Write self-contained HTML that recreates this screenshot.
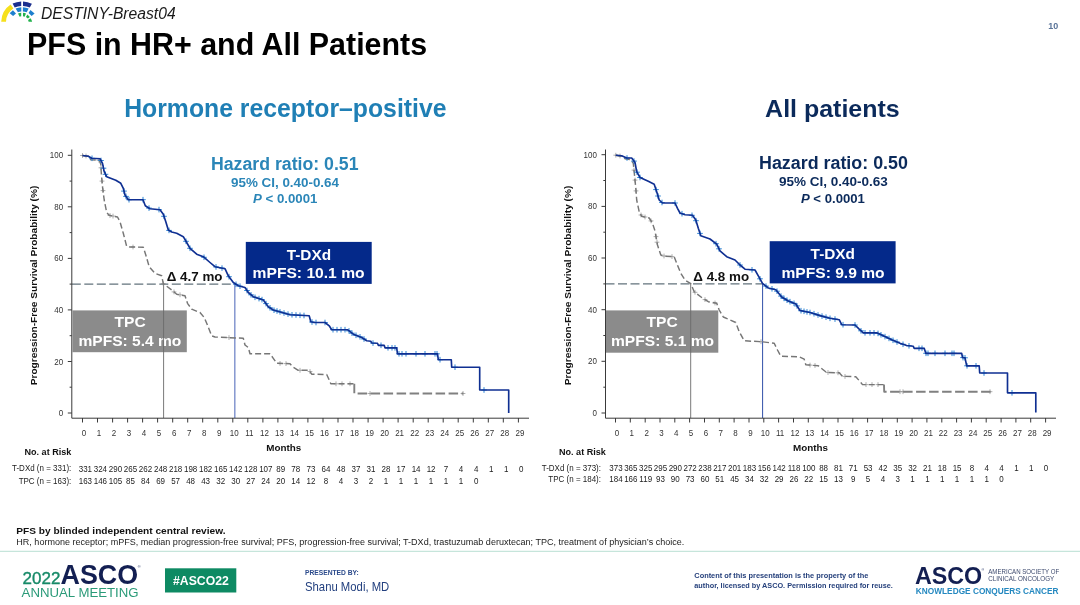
<!DOCTYPE html>
<html lang="en">
<head>
<meta charset="utf-8">
<title>DESTINY-Breast04 - PFS in HR+ and All Patients</title>
<style>
html,body{margin:0;padding:0;background:#fff;}
body{width:1080px;height:605px;overflow:hidden;font-family:"Liberation Sans",sans-serif;}
svg{display:block;}
</style>
</head>
<body>
<svg width="1080" height="605" viewBox="0 0 1080 605" font-family='"Liberation Sans", sans-serif'>
<rect width="1080" height="605" fill="#fff"/>
<g id="logo">
<path d="M1.2,21.8 A 21.5 21.5 0 0 1 10.6,4.6 L13.4,8.6 A 16.5 16.5 0 0 0 6.0,21.8 Z" fill="#f6e01c"/>
<path d="M12.6,3.6 Q16.6,1.7 21.2,1.4 L21.2,6.0 Q17.6,6.3 14.7,7.6 Z" fill="#1c2f8e"/>
<path d="M23.0,1.4 Q27.8,1.7 31.9,3.7 L29.8,7.6 Q26.6,6.2 23.0,6.0 Z" fill="#1c2f8e"/>
<path d="M12.9,10.2 L16.0,13.6 L13.1,16.0 L9.7,13.3 Z" fill="#1d7fce"/>
<path d="M15.6,8.6 Q18.2,7.4 21.3,7.2 L21.3,11.4 Q19.4,11.6 17.9,12.3 Z" fill="#1d7fce"/>
<path d="M22.9,7.2 Q26.0,7.4 28.7,8.6 L26.7,12.3 Q24.9,11.6 22.9,11.4 Z" fill="#1d7fce"/>
<path d="M30.4,10.0 L34.6,13.6 L31.6,16.0 L28.6,13.0 Z" fill="#1d7fce"/>
<path d="M18.0,13.4 Q19.5,12.8 21.2,12.7 L21.2,16.3 Q20.2,16.5 19.6,16.8 Z" fill="#22b14c"/>
<path d="M23.0,12.7 Q24.7,12.8 26.0,13.5 L24.6,16.7 Q23.8,16.4 23.0,16.3 Z" fill="#22b14c"/>
<path d="M27.4,14.6 L29.9,16.9 L27.8,18.6 L25.9,17.0 Z" fill="#22b14c"/>
<path d="M30.6,18.2 Q31.8,19.8 32.1,21.8 L28.6,21.8 Q28.5,20.8 28.0,20.0 Z" fill="#22b14c"/>
</g>
<text x="41.0" y="19.1" font-size="16.0" fill="#1a1a1a" font-style="italic" textLength="134.6" lengthAdjust="spacingAndGlyphs">DESTINY-Breast04</text>
<text x="27.1" y="55.0" font-size="31.8" fill="#000" font-weight="bold" textLength="400.0" lengthAdjust="spacingAndGlyphs">PFS in HR+ and All Patients</text>
<text x="1048.3" y="29.3" font-size="9.5" fill="#5a7499" font-weight="bold" textLength="10.0" lengthAdjust="spacingAndGlyphs">10</text>
<text x="124.2" y="117.0" font-size="26.0" fill="#1f7fb5" font-weight="bold" textLength="322.3" lengthAdjust="spacingAndGlyphs">Hormone receptor–positive</text>
<text x="765.1" y="116.8" font-size="24.3" fill="#0b2a5b" font-weight="bold" textLength="134.6" lengthAdjust="spacingAndGlyphs">All patients</text>
<path d="M71.8,284.1H234.8" stroke="#63737c" stroke-width="1.3" stroke-dasharray="9 3.5" fill="none"/>
<path d="M163.6,284.1V418" stroke="#6a6a6a" stroke-width="0.9" fill="none"/>
<path d="M234.8,284.1V418" stroke="#7d90cc" stroke-width="1.4" fill="none"/>
<path d="M71.8,149.5V418.2H529M71.8,413.0h-4M71.8,387.2h-2.2M71.8,361.5h-4M71.8,335.7h-2.2M71.8,309.9h-4M71.8,284.1h-2.2M71.8,258.4h-4M71.8,232.6h-2.2M71.8,206.8h-4M71.8,181.1h-2.2M71.8,155.3h-4M82.5,418v4.5M97.5,418v4.5M112.6,418v4.5M127.6,418v4.5M142.6,418v4.5M157.6,418v4.5M172.7,418v4.5M187.7,418v4.5M202.7,418v4.5M217.8,418v4.5M232.8,418v4.5M247.8,418v4.5M262.9,418v4.5M277.9,418v4.5M292.9,418v4.5M307.9,418v4.5M323.0,418v4.5M338.0,418v4.5M353.0,418v4.5M368.1,418v4.5M383.1,418v4.5M398.1,418v4.5M413.2,418v4.5M428.2,418v4.5M443.2,418v4.5M458.2,418v4.5M473.3,418v4.5M488.3,418v4.5M503.3,418v4.5M518.4,418v4.5" fill="none" stroke="#3a3a3a" stroke-width="1"/>
<g font-size="8" fill="#333">
<text transform="translate(63.2,416.0) scale(0.93,1)" font-size="8.6" fill="#333" text-anchor="end">0</text>
<text transform="translate(63.2,364.5) scale(0.93,1)" font-size="8.6" fill="#333" text-anchor="end">20</text>
<text transform="translate(63.2,312.9) scale(0.93,1)" font-size="8.6" fill="#333" text-anchor="end">40</text>
<text transform="translate(63.2,261.4) scale(0.93,1)" font-size="8.6" fill="#333" text-anchor="end">60</text>
<text transform="translate(63.2,209.8) scale(0.93,1)" font-size="8.6" fill="#333" text-anchor="end">80</text>
<text transform="translate(63.2,158.3) scale(0.93,1)" font-size="8.6" fill="#333" text-anchor="end">100</text>
<text transform="translate(84.0,435.6) scale(0.93,1)" font-size="8.6" fill="#333" text-anchor="middle">0</text>
<text transform="translate(99.0,435.6) scale(0.93,1)" font-size="8.6" fill="#333" text-anchor="middle">1</text>
<text transform="translate(114.1,435.6) scale(0.93,1)" font-size="8.6" fill="#333" text-anchor="middle">2</text>
<text transform="translate(129.1,435.6) scale(0.93,1)" font-size="8.6" fill="#333" text-anchor="middle">3</text>
<text transform="translate(144.1,435.6) scale(0.93,1)" font-size="8.6" fill="#333" text-anchor="middle">4</text>
<text transform="translate(159.1,435.6) scale(0.93,1)" font-size="8.6" fill="#333" text-anchor="middle">5</text>
<text transform="translate(174.2,435.6) scale(0.93,1)" font-size="8.6" fill="#333" text-anchor="middle">6</text>
<text transform="translate(189.2,435.6) scale(0.93,1)" font-size="8.6" fill="#333" text-anchor="middle">7</text>
<text transform="translate(204.2,435.6) scale(0.93,1)" font-size="8.6" fill="#333" text-anchor="middle">8</text>
<text transform="translate(219.3,435.6) scale(0.93,1)" font-size="8.6" fill="#333" text-anchor="middle">9</text>
<text transform="translate(234.3,435.6) scale(0.93,1)" font-size="8.6" fill="#333" text-anchor="middle">10</text>
<text transform="translate(249.3,435.6) scale(0.93,1)" font-size="8.6" fill="#333" text-anchor="middle">11</text>
<text transform="translate(264.4,435.6) scale(0.93,1)" font-size="8.6" fill="#333" text-anchor="middle">12</text>
<text transform="translate(279.4,435.6) scale(0.93,1)" font-size="8.6" fill="#333" text-anchor="middle">13</text>
<text transform="translate(294.4,435.6) scale(0.93,1)" font-size="8.6" fill="#333" text-anchor="middle">14</text>
<text transform="translate(309.4,435.6) scale(0.93,1)" font-size="8.6" fill="#333" text-anchor="middle">15</text>
<text transform="translate(324.5,435.6) scale(0.93,1)" font-size="8.6" fill="#333" text-anchor="middle">16</text>
<text transform="translate(339.5,435.6) scale(0.93,1)" font-size="8.6" fill="#333" text-anchor="middle">17</text>
<text transform="translate(354.5,435.6) scale(0.93,1)" font-size="8.6" fill="#333" text-anchor="middle">18</text>
<text transform="translate(369.6,435.6) scale(0.93,1)" font-size="8.6" fill="#333" text-anchor="middle">19</text>
<text transform="translate(384.6,435.6) scale(0.93,1)" font-size="8.6" fill="#333" text-anchor="middle">20</text>
<text transform="translate(399.6,435.6) scale(0.93,1)" font-size="8.6" fill="#333" text-anchor="middle">21</text>
<text transform="translate(414.7,435.6) scale(0.93,1)" font-size="8.6" fill="#333" text-anchor="middle">22</text>
<text transform="translate(429.7,435.6) scale(0.93,1)" font-size="8.6" fill="#333" text-anchor="middle">23</text>
<text transform="translate(444.7,435.6) scale(0.93,1)" font-size="8.6" fill="#333" text-anchor="middle">24</text>
<text transform="translate(459.8,435.6) scale(0.93,1)" font-size="8.6" fill="#333" text-anchor="middle">25</text>
<text transform="translate(474.8,435.6) scale(0.93,1)" font-size="8.6" fill="#333" text-anchor="middle">26</text>
<text transform="translate(489.8,435.6) scale(0.93,1)" font-size="8.6" fill="#333" text-anchor="middle">27</text>
<text transform="translate(504.8,435.6) scale(0.93,1)" font-size="8.6" fill="#333" text-anchor="middle">28</text>
<text transform="translate(519.9,435.6) scale(0.93,1)" font-size="8.6" fill="#333" text-anchor="middle">29</text>
</g>
<path d="M82.5,153.1v4.8M80.1,155.5h4.8M86.0,153.6v4.8M83.6,156.0h4.8M99.0,157.9v4.8M96.6,160.3h4.8M101.0,165.4v4.8M98.6,167.8h4.8M102.0,178.7v4.8M99.6,181.1h4.8M103.0,188.2v4.8M100.6,190.6h4.8M110.0,213.1v4.8M107.6,215.5h4.8M113.0,213.7v4.8M110.6,216.1h4.8M133.0,244.6v4.8M130.6,247.0h4.8M163.3,281.3v4.8M160.9,283.7h4.8M174.0,289.5v4.8M171.6,291.9h4.8M180.0,292.4v4.8M177.6,294.8h4.8M229.0,335.2v4.8M226.6,337.6h4.8M280.0,361.0v4.8M277.6,363.4h4.8M286.0,361.2v4.8M283.6,363.6h4.8M300.0,367.9v4.8M297.6,370.3h4.8M310.0,369.1v4.8M307.6,371.5h4.8M336.0,381.4v4.8M333.6,383.8h4.8M342.0,381.4v4.8M339.6,383.8h4.8M350.0,381.4v4.8M347.6,383.8h4.8M370.0,391.1v4.8M367.6,393.5h4.8M463.0,391.1v4.8M460.6,393.5h4.8" fill="none" stroke="#8a8a8a" stroke-width="0.7"/>
<path d="M82.5,155.5 L88.3,156.3 L90.8,159.7 L99.2,160.3 L100.8,164.2 L101.3,173.3 L102.5,186.7 L104.2,200.0 L106.7,212.5 L109.2,215.3 L117.5,217.0 L120.0,221.7 L123.3,233.3 L126.7,246.5 L130.0,247.0 L143.3,247.2 L145.8,255.0 L149.2,266.7 L155.0,273.3 L161.7,275.8 L163.3,283.7 L171.7,290.0 L176.7,294.2 L185.0,295.8 L187.5,303.3 L191.7,309.2 L200.0,312.5 L204.2,317.5 L206.7,323.3 L211.7,335.8 L215.0,337.0 L243.3,338.3 L245.0,345.0 L248.3,347.5 L250.0,353.7 L270.0,353.7 L273.3,358.3 L276.7,363.3 L290.0,363.7 L292.5,366.7 L298.3,370.3 L309.2,370.3 L311.7,374.2 L326.7,374.5 L329.2,380.0 L330.8,383.8 L354.3,383.8" fill="none" stroke="#767676" stroke-width="1.45" stroke-linejoin="round" stroke-dasharray="6 3"/>
<path d="M354.3,383.8 L354.3,393.5 L463.3,393.5" fill="none" stroke="#808080" stroke-width="1.9" stroke-linejoin="round" stroke-dasharray="9.5 3.5"/>
<path d="M92.0,155.5v5.6M89.2,158.3h5.6M101.0,157.7v5.6M98.2,160.5h5.6M103.5,165.4v5.6M100.7,168.2h5.6M105.5,171.5v5.6M102.7,174.3h5.6M124.0,188.3v5.6M121.2,191.1h5.6M126.0,193.6v5.6M123.2,196.4h5.6M129.0,196.9v5.6M126.2,199.7h5.6M143.0,196.9v5.6M140.2,199.7h5.6M149.0,205.3v5.6M146.2,208.1h5.6M159.0,206.8v5.6M156.2,209.6h5.6M164.0,213.5v5.6M161.2,216.3h5.6M169.0,227.6v5.6M166.2,230.4h5.6M186.0,238.5v5.6M183.2,241.3h5.6M190.0,245.5v5.6M187.2,248.3h5.6M204.0,254.5v5.6M201.2,257.3h5.6M216.0,264.1v5.6M213.2,266.9h5.6M222.0,265.3v5.6M219.2,268.1h5.6M229.0,273.9v5.6M226.2,276.7h5.6M236.0,281.5v5.6M233.2,284.3h5.6M240.0,283.4v5.6M237.2,286.2h5.6M247.0,287.7v5.6M244.2,290.5h5.6M251.0,292.0v5.6M248.2,294.8h5.6M255.0,294.5v5.6M252.2,297.3h5.6M259.0,295.8v5.6M256.2,298.6h5.6M262.0,296.8v5.6M259.2,299.6h5.6M266.0,300.8v5.6M263.2,303.6h5.6M270.0,305.0v5.6M267.2,307.8h5.6M274.0,307.4v5.6M271.2,310.2h5.6M277.0,308.2v5.6M274.2,311.0h5.6M280.0,309.1v5.6M277.2,311.9h5.6M284.0,310.2v5.6M281.2,313.0h5.6M288.0,311.3v5.6M285.2,314.1h5.6M292.0,312.0v5.6M289.2,314.8h5.6M296.0,312.2v5.6M293.2,315.0h5.6M300.0,312.5v5.6M297.2,315.3h5.6M304.0,312.7v5.6M301.2,315.5h5.6M312.0,319.2v5.6M309.2,322.0h5.6M316.0,319.7v5.6M313.2,322.5h5.6M325.0,319.7v5.6M322.2,322.5h5.6M333.0,326.9v5.6M330.2,329.7h5.6M337.0,326.9v5.6M334.2,329.7h5.6M341.0,326.9v5.6M338.2,329.7h5.6M345.0,326.9v5.6M342.2,329.7h5.6M349.0,328.1v5.6M346.2,330.9h5.6M352.0,330.4v5.6M349.2,333.2h5.6M356.0,332.5v5.6M353.2,335.3h5.6M360.0,334.0v5.6M357.2,336.8h5.6M364.0,336.2v5.6M361.2,339.0h5.6M373.0,340.3v5.6M370.2,343.1h5.6M381.0,342.5v5.6M378.2,345.3h5.6M388.0,345.0v5.6M385.2,347.8h5.6M392.0,345.0v5.6M389.2,347.8h5.6M395.0,345.0v5.6M392.2,347.8h5.6M399.0,351.0v5.6M396.2,353.8h5.6M402.0,351.0v5.6M399.2,353.8h5.6M406.0,351.0v5.6M403.2,353.8h5.6M416.0,351.0v5.6M413.2,353.8h5.6M425.0,351.0v5.6M422.2,353.8h5.6M435.0,351.0v5.6M432.2,353.8h5.6M437.0,351.0v5.6M434.2,353.8h5.6M440.0,356.9v5.6M437.2,359.7h5.6M455.0,364.4v5.6M452.2,367.2h5.6M484.0,387.2v5.6M481.2,390.0h5.6" fill="none" stroke="#2380d2" stroke-width="0.95"/>
<path d="M82.5,155.5 L88.3,156.3 L91.7,158.3 L100.0,158.7 L102.5,163.3 L104.2,171.7 L106.7,176.7 L115.8,180.3 L120.8,183.3 L123.3,188.3 L125.0,195.0 L128.3,199.7 L143.0,199.7 L145.3,205.8 L150.0,208.7 L160.0,209.7 L163.3,214.2 L165.8,221.7 L168.3,230.0 L171.7,232.0 L176.7,233.3 L183.3,236.7 L186.7,242.5 L190.0,248.3 L196.7,254.2 L203.3,256.7 L210.0,262.5 L215.0,266.7 L225.0,268.7 L228.3,275.8 L233.3,282.5 L238.3,285.8 L245.0,287.5 L248.3,292.5 L253.3,296.7 L263.3,300.0 L268.3,306.7 L273.3,310.0 L290.0,314.7 L309.2,315.8 L310.8,321.7 L314.2,322.5 L325.0,322.5 L329.2,325.8 L331.7,329.7 L347.5,329.7 L353.3,334.2 L361.7,337.5 L366.7,340.8 L370.8,341.2 L371.7,343.0 L377.5,343.3 L378.3,345.3 L384.2,345.3 L385.0,347.8 L396.7,347.8 L397.5,353.8 L437.5,353.8 L438.3,359.7 L451.3,359.7 L451.7,367.2 L479.7,367.2 L479.7,390.0 L508.7,390.0 L508.7,413.0" fill="none" stroke="#0f2f92" stroke-width="1.65" stroke-linejoin="round"/>
<path d="M605.5,283.9H762.6" stroke="#63737c" stroke-width="1.3" stroke-dasharray="9 3.5" fill="none"/>
<path d="M690.7,283.9V418" stroke="#6a6a6a" stroke-width="0.9" fill="none"/>
<path d="M762.6,283.9V418" stroke="#3150a8" stroke-width="1.0" fill="none"/>
<path d="M605.5,149.5V418.2H1056M605.5,413.0h-4M605.5,387.2h-2.2M605.5,361.3h-4M605.5,335.5h-2.2M605.5,309.7h-4M605.5,283.9h-2.2M605.5,258.0h-4M605.5,232.2h-2.2M605.5,206.4h-4M605.5,180.5h-2.2M605.5,154.7h-4M615.5,418v4.5M630.3,418v4.5M645.2,418v4.5M660.0,418v4.5M674.8,418v4.5M689.6,418v4.5M704.5,418v4.5M719.3,418v4.5M734.1,418v4.5M749.0,418v4.5M763.8,418v4.5M778.6,418v4.5M793.5,418v4.5M808.3,418v4.5M823.1,418v4.5M838.0,418v4.5M852.8,418v4.5M867.6,418v4.5M882.4,418v4.5M897.3,418v4.5M912.1,418v4.5M926.9,418v4.5M941.8,418v4.5M956.6,418v4.5M971.4,418v4.5M986.2,418v4.5M1001.1,418v4.5M1015.9,418v4.5M1030.7,418v4.5M1045.6,418v4.5" fill="none" stroke="#3a3a3a" stroke-width="1"/>
<g font-size="8" fill="#333">
<text transform="translate(596.9,416.0) scale(0.93,1)" font-size="8.6" fill="#333" text-anchor="end">0</text>
<text transform="translate(596.9,364.3) scale(0.93,1)" font-size="8.6" fill="#333" text-anchor="end">20</text>
<text transform="translate(596.9,312.7) scale(0.93,1)" font-size="8.6" fill="#333" text-anchor="end">40</text>
<text transform="translate(596.9,261.0) scale(0.93,1)" font-size="8.6" fill="#333" text-anchor="end">60</text>
<text transform="translate(596.9,209.4) scale(0.93,1)" font-size="8.6" fill="#333" text-anchor="end">80</text>
<text transform="translate(596.9,157.7) scale(0.93,1)" font-size="8.6" fill="#333" text-anchor="end">100</text>
<text transform="translate(617.0,435.6) scale(0.93,1)" font-size="8.6" fill="#333" text-anchor="middle">0</text>
<text transform="translate(631.8,435.6) scale(0.93,1)" font-size="8.6" fill="#333" text-anchor="middle">1</text>
<text transform="translate(646.7,435.6) scale(0.93,1)" font-size="8.6" fill="#333" text-anchor="middle">2</text>
<text transform="translate(661.5,435.6) scale(0.93,1)" font-size="8.6" fill="#333" text-anchor="middle">3</text>
<text transform="translate(676.3,435.6) scale(0.93,1)" font-size="8.6" fill="#333" text-anchor="middle">4</text>
<text transform="translate(691.1,435.6) scale(0.93,1)" font-size="8.6" fill="#333" text-anchor="middle">5</text>
<text transform="translate(706.0,435.6) scale(0.93,1)" font-size="8.6" fill="#333" text-anchor="middle">6</text>
<text transform="translate(720.8,435.6) scale(0.93,1)" font-size="8.6" fill="#333" text-anchor="middle">7</text>
<text transform="translate(735.6,435.6) scale(0.93,1)" font-size="8.6" fill="#333" text-anchor="middle">8</text>
<text transform="translate(750.5,435.6) scale(0.93,1)" font-size="8.6" fill="#333" text-anchor="middle">9</text>
<text transform="translate(765.3,435.6) scale(0.93,1)" font-size="8.6" fill="#333" text-anchor="middle">10</text>
<text transform="translate(780.1,435.6) scale(0.93,1)" font-size="8.6" fill="#333" text-anchor="middle">11</text>
<text transform="translate(795.0,435.6) scale(0.93,1)" font-size="8.6" fill="#333" text-anchor="middle">12</text>
<text transform="translate(809.8,435.6) scale(0.93,1)" font-size="8.6" fill="#333" text-anchor="middle">13</text>
<text transform="translate(824.6,435.6) scale(0.93,1)" font-size="8.6" fill="#333" text-anchor="middle">14</text>
<text transform="translate(839.5,435.6) scale(0.93,1)" font-size="8.6" fill="#333" text-anchor="middle">15</text>
<text transform="translate(854.3,435.6) scale(0.93,1)" font-size="8.6" fill="#333" text-anchor="middle">16</text>
<text transform="translate(869.1,435.6) scale(0.93,1)" font-size="8.6" fill="#333" text-anchor="middle">17</text>
<text transform="translate(883.9,435.6) scale(0.93,1)" font-size="8.6" fill="#333" text-anchor="middle">18</text>
<text transform="translate(898.8,435.6) scale(0.93,1)" font-size="8.6" fill="#333" text-anchor="middle">19</text>
<text transform="translate(913.6,435.6) scale(0.93,1)" font-size="8.6" fill="#333" text-anchor="middle">20</text>
<text transform="translate(928.4,435.6) scale(0.93,1)" font-size="8.6" fill="#333" text-anchor="middle">21</text>
<text transform="translate(943.3,435.6) scale(0.93,1)" font-size="8.6" fill="#333" text-anchor="middle">22</text>
<text transform="translate(958.1,435.6) scale(0.93,1)" font-size="8.6" fill="#333" text-anchor="middle">23</text>
<text transform="translate(972.9,435.6) scale(0.93,1)" font-size="8.6" fill="#333" text-anchor="middle">24</text>
<text transform="translate(987.8,435.6) scale(0.93,1)" font-size="8.6" fill="#333" text-anchor="middle">25</text>
<text transform="translate(1002.6,435.6) scale(0.93,1)" font-size="8.6" fill="#333" text-anchor="middle">26</text>
<text transform="translate(1017.4,435.6) scale(0.93,1)" font-size="8.6" fill="#333" text-anchor="middle">27</text>
<text transform="translate(1032.2,435.6) scale(0.93,1)" font-size="8.6" fill="#333" text-anchor="middle">28</text>
<text transform="translate(1047.1,435.6) scale(0.93,1)" font-size="8.6" fill="#333" text-anchor="middle">29</text>
</g>
<path d="M615.8,152.8v4.8M613.4,155.2h4.8M620.0,153.6v4.8M617.6,156.0h4.8M634.0,167.7v4.8M631.6,170.1h4.8M635.0,177.7v4.8M632.6,180.1h4.8M636.0,188.5v4.8M633.6,190.9h4.8M641.0,212.6v4.8M638.6,215.0h4.8M645.0,214.6v4.8M642.6,217.0h4.8M651.0,218.5v4.8M648.6,220.9h4.8M656.0,234.2v4.8M653.6,236.6h4.8M657.0,239.8v4.8M654.6,242.2h4.8M664.0,253.6v4.8M661.6,256.0h4.8M672.0,254.2v4.8M669.6,256.6h4.8M695.0,289.9v4.8M692.6,292.3h4.8M705.0,297.2v4.8M702.6,299.6h4.8M715.0,300.6v4.8M712.6,303.0h4.8M761.0,339.3v4.8M758.6,341.7h4.8M810.0,362.7v4.8M807.6,365.1h4.8M815.0,363.1v4.8M812.6,365.5h4.8M828.0,370.1v4.8M825.6,372.5h4.8M838.0,370.4v4.8M835.6,372.8h4.8M845.0,374.0v4.8M842.6,376.4h4.8M866.0,382.2v4.8M863.6,384.6h4.8M872.0,382.2v4.8M869.6,384.6h4.8M878.0,382.2v4.8M875.6,384.6h4.8M900.0,389.3v4.8M897.6,391.7h4.8M903.0,389.3v4.8M900.6,391.7h4.8M990.0,389.3v4.8M987.6,391.7h4.8" fill="none" stroke="#8a8a8a" stroke-width="0.7"/>
<path d="M615.8,155.2 L621.7,156.3 L625.0,158.7 L630.8,159.7 L633.3,163.3 L634.5,175.0 L635.8,188.3 L636.7,200.0 L639.2,211.7 L641.7,216.3 L649.2,218.0 L652.5,223.3 L655.0,231.0 L657.5,245.0 L660.8,255.0 L665.0,256.3 L674.2,256.7 L676.7,263.3 L680.8,273.3 L685.0,280.0 L690.8,283.7 L694.2,291.7 L701.7,297.5 L708.3,301.7 L716.7,303.3 L719.2,310.0 L723.3,317.0 L735.8,322.5 L739.2,331.7 L744.2,340.8 L761.7,341.7 L774.2,343.3 L777.5,350.0 L780.8,356.3 L799.2,356.7 L804.2,359.2 L805.8,364.7 L818.3,365.8 L822.5,369.2 L826.7,372.5 L839.2,372.8 L842.5,376.3 L855.8,376.7 L860.8,382.5 L862.5,384.6 L884.0,384.6" fill="none" stroke="#767676" stroke-width="1.45" stroke-linejoin="round" stroke-dasharray="6 3"/>
<path d="M884.0,384.6 L884.2,391.7 L990.8,391.7" fill="none" stroke="#808080" stroke-width="1.9" stroke-linejoin="round" stroke-dasharray="9.5 3.5"/>
<path d="M627.0,155.2v5.6M624.2,158.0h5.6M634.0,158.3v5.6M631.2,161.1h5.6M637.0,169.4v5.6M634.2,172.2h5.6M640.0,174.7v5.6M637.2,177.5h5.6M656.0,186.8v5.6M653.2,189.6h5.6M658.0,193.2v5.6M655.2,196.0h5.6M662.0,199.7v5.6M659.2,202.5h5.6M675.0,200.2v5.6M672.2,203.0h5.6M682.0,210.9v5.6M679.2,213.7h5.6M692.0,212.5v5.6M689.2,215.3h5.6M696.0,217.9v5.6M693.2,220.7h5.6M700.0,230.6v5.6M697.2,233.4h5.6M716.0,240.9v5.6M713.2,243.7h5.6M719.0,246.0v5.6M716.2,248.8h5.6M740.0,262.2v5.6M737.2,265.0h5.6M752.0,267.0v5.6M749.2,269.8h5.6M760.0,276.0v5.6M757.2,278.8h5.6M766.0,283.3v5.6M763.2,286.1h5.6M772.0,286.0v5.6M769.2,288.8h5.6M777.0,288.4v5.6M774.2,291.2h5.6M781.0,293.3v5.6M778.2,296.1h5.6M784.0,295.6v5.6M781.2,298.4h5.6M787.0,297.4v5.6M784.2,300.2h5.6M790.0,298.9v5.6M787.2,301.7h5.6M794.0,300.5v5.6M791.2,303.3h5.6M797.0,303.1v5.6M794.2,305.9h5.6M801.0,307.9v5.6M798.2,310.7h5.6M804.0,308.5v5.6M801.2,311.3h5.6M807.0,309.1v5.6M804.2,311.9h5.6M810.0,309.7v5.6M807.2,312.5h5.6M814.0,310.9v5.6M811.2,313.7h5.6M818.0,312.2v5.6M815.2,315.0h5.6M822.0,313.3v5.6M819.2,316.1h5.6M826.0,314.4v5.6M823.2,317.2h5.6M830.0,315.5v5.6M827.2,318.3h5.6M835.0,316.3v5.6M832.2,319.1h5.6M843.0,321.9v5.6M840.2,324.7h5.6M855.0,322.2v5.6M852.2,325.0h5.6M861.0,328.0v5.6M858.2,330.8h5.6M865.0,330.0v5.6M862.2,332.8h5.6M870.0,330.0v5.6M867.2,332.8h5.6M874.0,330.0v5.6M871.2,332.8h5.6M878.0,330.6v5.6M875.2,333.4h5.6M881.0,332.0v5.6M878.2,334.8h5.6M885.0,333.8v5.6M882.2,336.6h5.6M889.0,335.6v5.6M886.2,338.4h5.6M893.0,337.5v5.6M890.2,340.3h5.6M897.0,339.2v5.6M894.2,342.0h5.6M903.0,341.5v5.6M900.2,344.3h5.6M909.0,343.0v5.6M906.2,345.8h5.6M919.0,345.5v5.6M916.2,348.3h5.6M922.0,345.5v5.6M919.2,348.3h5.6M926.0,350.5v5.6M923.2,353.3h5.6M928.0,350.5v5.6M925.2,353.3h5.6M935.0,350.5v5.6M932.2,353.3h5.6M945.0,350.5v5.6M942.2,353.3h5.6M952.0,350.5v5.6M949.2,353.3h5.6M954.0,350.5v5.6M951.2,353.3h5.6M963.0,354.8v5.6M960.2,357.6h5.6M965.0,355.0v5.6M962.2,357.8h5.6M967.0,363.0v5.6M964.2,365.8h5.6M976.0,363.0v5.6M973.2,365.8h5.6M984.0,370.2v5.6M981.2,373.0h5.6M1012.0,390.0v5.6M1009.2,392.8h5.6" fill="none" stroke="#2380d2" stroke-width="0.95"/>
<path d="M615.8,155.2 L621.7,155.8 L626.7,158.0 L631.7,158.0 L635.0,162.5 L636.7,171.7 L640.0,177.5 L648.3,181.3 L654.2,184.2 L656.7,191.7 L659.2,200.0 L662.5,203.0 L675.0,203.0 L677.5,208.3 L680.0,213.0 L685.0,214.7 L692.5,215.3 L695.8,220.0 L698.3,228.3 L700.8,235.8 L710.0,239.0 L716.7,244.2 L720.0,250.8 L726.7,256.7 L735.0,260.0 L740.0,265.0 L745.0,269.2 L755.0,270.0 L758.3,275.8 L762.5,283.3 L768.3,288.0 L775.8,289.7 L781.7,297.0 L788.3,301.0 L795.8,304.0 L800.0,310.5 L810.0,312.5 L820.0,315.6 L830.0,318.3 L839.2,319.7 L841.7,324.7 L855.0,325.0 L859.2,329.2 L863.3,332.8 L876.7,332.8 L883.3,335.8 L891.7,339.7 L900.0,343.3 L906.7,345.5 L913.3,346.3 L914.2,348.3 L924.2,348.3 L925.8,353.3 L961.7,353.3 L962.5,357.5 L965.0,357.8 L965.8,361.7 L966.7,365.8 L979.2,365.8 L979.7,373.0 L1007.5,373.0 L1007.5,392.8 L1035.8,392.8 L1035.8,412.5" fill="none" stroke="#0f2f92" stroke-width="1.65" stroke-linejoin="round"/>
<text x="211.0" y="169.5" font-size="17.6" fill="#2b86b8" font-weight="bold" textLength="147.5" lengthAdjust="spacingAndGlyphs">Hazard ratio: 0.51</text>
<text x="231.0" y="186.6" font-size="12.2" fill="#2b86b8" font-weight="bold" textLength="108.0" lengthAdjust="spacingAndGlyphs">95% CI, 0.40-0.64</text>
<text x="253" y="202.9" font-size="12.2" fill="#2b86b8" font-weight="bold" textLength="64.4" lengthAdjust="spacingAndGlyphs"><tspan font-style="italic">P</tspan> &lt; 0.0001</text>
<rect x="245.8" y="241.9" width="125.9" height="42" fill="#04298a"/>
<text x="286.7" y="259.6" font-size="15.2" fill="#fff" font-weight="bold" textLength="44.4" lengthAdjust="spacingAndGlyphs">T-DXd</text>
<text x="252.6" y="278.0" font-size="15.2" fill="#fff" font-weight="bold" textLength="112.0" lengthAdjust="spacingAndGlyphs">mPFS: 10.1 mo</text>
<rect x="72.4" y="310.4" width="114.4" height="41.8" fill="#8b8b8b"/>
<text x="114.6" y="327.3" font-size="15.2" fill="#fff" font-weight="bold" textLength="31.2" lengthAdjust="spacingAndGlyphs">TPC</text>
<text x="78.4" y="346.1" font-size="15.2" fill="#fff" font-weight="bold" textLength="103.0" lengthAdjust="spacingAndGlyphs">mPFS: 5.4 mo</text>
<path d="M163.6,310.4V352.2" stroke="#6a6a6a" stroke-width="0.9"/>
<text x="166.7" y="280.9" font-size="12.4" fill="#111" font-weight="bold" textLength="55.8" lengthAdjust="spacingAndGlyphs">Δ 4.7 mo</text>
<text x="759.0" y="169.2" font-size="17.6" fill="#0b2a5b" font-weight="bold" textLength="148.9" lengthAdjust="spacingAndGlyphs">Hazard ratio: 0.50</text>
<text x="779.0" y="186.4" font-size="12.2" fill="#0b2a5b" font-weight="bold" textLength="108.9" lengthAdjust="spacingAndGlyphs">95% CI, 0.40-0.63</text>
<text x="800.9" y="203.0" font-size="12.2" fill="#0b2a5b" font-weight="bold" textLength="64" lengthAdjust="spacingAndGlyphs"><tspan font-style="italic">P</tspan> &lt; 0.0001</text>
<rect x="769.7" y="241.2" width="125.9" height="42.2" fill="#04298a"/>
<text x="810.6" y="259.3" font-size="15.2" fill="#fff" font-weight="bold" textLength="44.4" lengthAdjust="spacingAndGlyphs">T-DXd</text>
<text x="781.5" y="277.8" font-size="15.2" fill="#fff" font-weight="bold" textLength="103.0" lengthAdjust="spacingAndGlyphs">mPFS: 9.9 mo</text>
<rect x="606" y="310.4" width="112.3" height="42.3" fill="#8b8b8b"/>
<text x="646.6" y="327.3" font-size="15.2" fill="#fff" font-weight="bold" textLength="31.2" lengthAdjust="spacingAndGlyphs">TPC</text>
<text x="611.0" y="346.1" font-size="15.2" fill="#fff" font-weight="bold" textLength="103.0" lengthAdjust="spacingAndGlyphs">mPFS: 5.1 mo</text>
<path d="M690.7,310.4V352.7" stroke="#6a6a6a" stroke-width="0.9"/>
<text x="693.3" y="280.9" font-size="12.4" fill="#111" font-weight="bold" textLength="55.8" lengthAdjust="spacingAndGlyphs">Δ 4.8 mo</text>
<text transform="translate(36.5,285.5) rotate(-90)" text-anchor="middle" font-size="9.6" font-weight="bold" fill="#111" textLength="199.6" lengthAdjust="spacingAndGlyphs">Progression-Free Survival Probability (%)</text>
<text transform="translate(570.7,285.5) rotate(-90)" text-anchor="middle" font-size="9.6" font-weight="bold" fill="#111" textLength="199.6" lengthAdjust="spacingAndGlyphs">Progression-Free Survival Probability (%)</text>
<text x="266.3" y="450.8" font-size="9.6" fill="#111" font-weight="bold" textLength="35.0" lengthAdjust="spacingAndGlyphs">Months</text>
<text x="793.0" y="450.8" font-size="9.6" fill="#111" font-weight="bold" textLength="35.0" lengthAdjust="spacingAndGlyphs">Months</text>
<text x="24.5" y="455.1" font-size="8.9" fill="#111" font-weight="bold" textLength="46.8" lengthAdjust="spacingAndGlyphs">No. at Risk</text>
<text x="559.0" y="455.1" font-size="8.9" fill="#111" font-weight="bold" textLength="46.8" lengthAdjust="spacingAndGlyphs">No. at Risk</text>
<text transform="translate(71.3,470.8) scale(0.93,1)" font-size="8.6" fill="#222" text-anchor="end">T-DXd (n = 331):</text>
<text transform="translate(71.3,483.7) scale(0.93,1)" font-size="8.6" fill="#222" text-anchor="end">TPC (n = 163):</text>
<text transform="translate(601.0,470.8) scale(0.93,1)" font-size="8.6" fill="#222" text-anchor="end">T-DXd (n = 373):</text>
<text transform="translate(601.0,482.2) scale(0.93,1)" font-size="8.6" fill="#222" text-anchor="end">TPC (n = 184):</text>
<g font-size="8" fill="#222" text-anchor="middle">
<text transform="translate(85.4,471.6) scale(0.93,1)" font-size="8.6" fill="#222" text-anchor="middle">331</text>
<text transform="translate(100.4,471.6) scale(0.93,1)" font-size="8.6" fill="#222" text-anchor="middle">324</text>
<text transform="translate(115.5,471.6) scale(0.93,1)" font-size="8.6" fill="#222" text-anchor="middle">290</text>
<text transform="translate(130.5,471.6) scale(0.93,1)" font-size="8.6" fill="#222" text-anchor="middle">265</text>
<text transform="translate(145.5,471.6) scale(0.93,1)" font-size="8.6" fill="#222" text-anchor="middle">262</text>
<text transform="translate(160.6,471.6) scale(0.93,1)" font-size="8.6" fill="#222" text-anchor="middle">248</text>
<text transform="translate(175.6,471.6) scale(0.93,1)" font-size="8.6" fill="#222" text-anchor="middle">218</text>
<text transform="translate(190.6,471.6) scale(0.93,1)" font-size="8.6" fill="#222" text-anchor="middle">198</text>
<text transform="translate(205.6,471.6) scale(0.93,1)" font-size="8.6" fill="#222" text-anchor="middle">182</text>
<text transform="translate(220.7,471.6) scale(0.93,1)" font-size="8.6" fill="#222" text-anchor="middle">165</text>
<text transform="translate(235.7,471.6) scale(0.93,1)" font-size="8.6" fill="#222" text-anchor="middle">142</text>
<text transform="translate(250.7,471.6) scale(0.93,1)" font-size="8.6" fill="#222" text-anchor="middle">128</text>
<text transform="translate(265.8,471.6) scale(0.93,1)" font-size="8.6" fill="#222" text-anchor="middle">107</text>
<text transform="translate(280.8,471.6) scale(0.93,1)" font-size="8.6" fill="#222" text-anchor="middle">89</text>
<text transform="translate(295.8,471.6) scale(0.93,1)" font-size="8.6" fill="#222" text-anchor="middle">78</text>
<text transform="translate(310.9,471.6) scale(0.93,1)" font-size="8.6" fill="#222" text-anchor="middle">73</text>
<text transform="translate(325.9,471.6) scale(0.93,1)" font-size="8.6" fill="#222" text-anchor="middle">64</text>
<text transform="translate(340.9,471.6) scale(0.93,1)" font-size="8.6" fill="#222" text-anchor="middle">48</text>
<text transform="translate(355.9,471.6) scale(0.93,1)" font-size="8.6" fill="#222" text-anchor="middle">37</text>
<text transform="translate(371.0,471.6) scale(0.93,1)" font-size="8.6" fill="#222" text-anchor="middle">31</text>
<text transform="translate(386.0,471.6) scale(0.93,1)" font-size="8.6" fill="#222" text-anchor="middle">28</text>
<text transform="translate(401.0,471.6) scale(0.93,1)" font-size="8.6" fill="#222" text-anchor="middle">17</text>
<text transform="translate(416.1,471.6) scale(0.93,1)" font-size="8.6" fill="#222" text-anchor="middle">14</text>
<text transform="translate(431.1,471.6) scale(0.93,1)" font-size="8.6" fill="#222" text-anchor="middle">12</text>
<text transform="translate(446.1,471.6) scale(0.93,1)" font-size="8.6" fill="#222" text-anchor="middle">7</text>
<text transform="translate(461.1,471.6) scale(0.93,1)" font-size="8.6" fill="#222" text-anchor="middle">4</text>
<text transform="translate(476.2,471.6) scale(0.93,1)" font-size="8.6" fill="#222" text-anchor="middle">4</text>
<text transform="translate(491.2,471.6) scale(0.93,1)" font-size="8.6" fill="#222" text-anchor="middle">1</text>
<text transform="translate(506.2,471.6) scale(0.93,1)" font-size="8.6" fill="#222" text-anchor="middle">1</text>
<text transform="translate(521.3,471.6) scale(0.93,1)" font-size="8.6" fill="#222" text-anchor="middle">0</text>
<text transform="translate(85.4,483.7) scale(0.93,1)" font-size="8.6" fill="#222" text-anchor="middle">163</text>
<text transform="translate(100.4,483.7) scale(0.93,1)" font-size="8.6" fill="#222" text-anchor="middle">146</text>
<text transform="translate(115.5,483.7) scale(0.93,1)" font-size="8.6" fill="#222" text-anchor="middle">105</text>
<text transform="translate(130.5,483.7) scale(0.93,1)" font-size="8.6" fill="#222" text-anchor="middle">85</text>
<text transform="translate(145.5,483.7) scale(0.93,1)" font-size="8.6" fill="#222" text-anchor="middle">84</text>
<text transform="translate(160.6,483.7) scale(0.93,1)" font-size="8.6" fill="#222" text-anchor="middle">69</text>
<text transform="translate(175.6,483.7) scale(0.93,1)" font-size="8.6" fill="#222" text-anchor="middle">57</text>
<text transform="translate(190.6,483.7) scale(0.93,1)" font-size="8.6" fill="#222" text-anchor="middle">48</text>
<text transform="translate(205.6,483.7) scale(0.93,1)" font-size="8.6" fill="#222" text-anchor="middle">43</text>
<text transform="translate(220.7,483.7) scale(0.93,1)" font-size="8.6" fill="#222" text-anchor="middle">32</text>
<text transform="translate(235.7,483.7) scale(0.93,1)" font-size="8.6" fill="#222" text-anchor="middle">30</text>
<text transform="translate(250.7,483.7) scale(0.93,1)" font-size="8.6" fill="#222" text-anchor="middle">27</text>
<text transform="translate(265.8,483.7) scale(0.93,1)" font-size="8.6" fill="#222" text-anchor="middle">24</text>
<text transform="translate(280.8,483.7) scale(0.93,1)" font-size="8.6" fill="#222" text-anchor="middle">20</text>
<text transform="translate(295.8,483.7) scale(0.93,1)" font-size="8.6" fill="#222" text-anchor="middle">14</text>
<text transform="translate(310.9,483.7) scale(0.93,1)" font-size="8.6" fill="#222" text-anchor="middle">12</text>
<text transform="translate(325.9,483.7) scale(0.93,1)" font-size="8.6" fill="#222" text-anchor="middle">8</text>
<text transform="translate(340.9,483.7) scale(0.93,1)" font-size="8.6" fill="#222" text-anchor="middle">4</text>
<text transform="translate(355.9,483.7) scale(0.93,1)" font-size="8.6" fill="#222" text-anchor="middle">3</text>
<text transform="translate(371.0,483.7) scale(0.93,1)" font-size="8.6" fill="#222" text-anchor="middle">2</text>
<text transform="translate(386.0,483.7) scale(0.93,1)" font-size="8.6" fill="#222" text-anchor="middle">1</text>
<text transform="translate(401.0,483.7) scale(0.93,1)" font-size="8.6" fill="#222" text-anchor="middle">1</text>
<text transform="translate(416.1,483.7) scale(0.93,1)" font-size="8.6" fill="#222" text-anchor="middle">1</text>
<text transform="translate(431.1,483.7) scale(0.93,1)" font-size="8.6" fill="#222" text-anchor="middle">1</text>
<text transform="translate(446.1,483.7) scale(0.93,1)" font-size="8.6" fill="#222" text-anchor="middle">1</text>
<text transform="translate(461.1,483.7) scale(0.93,1)" font-size="8.6" fill="#222" text-anchor="middle">1</text>
<text transform="translate(476.2,483.7) scale(0.93,1)" font-size="8.6" fill="#222" text-anchor="middle">0</text>
<text transform="translate(616.0,470.8) scale(0.93,1)" font-size="8.6" fill="#222" text-anchor="middle">373</text>
<text transform="translate(630.8,470.8) scale(0.93,1)" font-size="8.6" fill="#222" text-anchor="middle">365</text>
<text transform="translate(645.7,470.8) scale(0.93,1)" font-size="8.6" fill="#222" text-anchor="middle">325</text>
<text transform="translate(660.5,470.8) scale(0.93,1)" font-size="8.6" fill="#222" text-anchor="middle">295</text>
<text transform="translate(675.3,470.8) scale(0.93,1)" font-size="8.6" fill="#222" text-anchor="middle">290</text>
<text transform="translate(690.1,470.8) scale(0.93,1)" font-size="8.6" fill="#222" text-anchor="middle">272</text>
<text transform="translate(705.0,470.8) scale(0.93,1)" font-size="8.6" fill="#222" text-anchor="middle">238</text>
<text transform="translate(719.8,470.8) scale(0.93,1)" font-size="8.6" fill="#222" text-anchor="middle">217</text>
<text transform="translate(734.6,470.8) scale(0.93,1)" font-size="8.6" fill="#222" text-anchor="middle">201</text>
<text transform="translate(749.5,470.8) scale(0.93,1)" font-size="8.6" fill="#222" text-anchor="middle">183</text>
<text transform="translate(764.3,470.8) scale(0.93,1)" font-size="8.6" fill="#222" text-anchor="middle">156</text>
<text transform="translate(779.1,470.8) scale(0.93,1)" font-size="8.6" fill="#222" text-anchor="middle">142</text>
<text transform="translate(794.0,470.8) scale(0.93,1)" font-size="8.6" fill="#222" text-anchor="middle">118</text>
<text transform="translate(808.8,470.8) scale(0.93,1)" font-size="8.6" fill="#222" text-anchor="middle">100</text>
<text transform="translate(823.6,470.8) scale(0.93,1)" font-size="8.6" fill="#222" text-anchor="middle">88</text>
<text transform="translate(838.5,470.8) scale(0.93,1)" font-size="8.6" fill="#222" text-anchor="middle">81</text>
<text transform="translate(853.3,470.8) scale(0.93,1)" font-size="8.6" fill="#222" text-anchor="middle">71</text>
<text transform="translate(868.1,470.8) scale(0.93,1)" font-size="8.6" fill="#222" text-anchor="middle">53</text>
<text transform="translate(882.9,470.8) scale(0.93,1)" font-size="8.6" fill="#222" text-anchor="middle">42</text>
<text transform="translate(897.8,470.8) scale(0.93,1)" font-size="8.6" fill="#222" text-anchor="middle">35</text>
<text transform="translate(912.6,470.8) scale(0.93,1)" font-size="8.6" fill="#222" text-anchor="middle">32</text>
<text transform="translate(927.4,470.8) scale(0.93,1)" font-size="8.6" fill="#222" text-anchor="middle">21</text>
<text transform="translate(942.3,470.8) scale(0.93,1)" font-size="8.6" fill="#222" text-anchor="middle">18</text>
<text transform="translate(957.1,470.8) scale(0.93,1)" font-size="8.6" fill="#222" text-anchor="middle">15</text>
<text transform="translate(971.9,470.8) scale(0.93,1)" font-size="8.6" fill="#222" text-anchor="middle">8</text>
<text transform="translate(986.8,470.8) scale(0.93,1)" font-size="8.6" fill="#222" text-anchor="middle">4</text>
<text transform="translate(1001.6,470.8) scale(0.93,1)" font-size="8.6" fill="#222" text-anchor="middle">4</text>
<text transform="translate(1016.4,470.8) scale(0.93,1)" font-size="8.6" fill="#222" text-anchor="middle">1</text>
<text transform="translate(1031.2,470.8) scale(0.93,1)" font-size="8.6" fill="#222" text-anchor="middle">1</text>
<text transform="translate(1046.1,470.8) scale(0.93,1)" font-size="8.6" fill="#222" text-anchor="middle">0</text>
<text transform="translate(616.0,482.2) scale(0.93,1)" font-size="8.6" fill="#222" text-anchor="middle">184</text>
<text transform="translate(630.8,482.2) scale(0.93,1)" font-size="8.6" fill="#222" text-anchor="middle">166</text>
<text transform="translate(645.7,482.2) scale(0.93,1)" font-size="8.6" fill="#222" text-anchor="middle">119</text>
<text transform="translate(660.5,482.2) scale(0.93,1)" font-size="8.6" fill="#222" text-anchor="middle">93</text>
<text transform="translate(675.3,482.2) scale(0.93,1)" font-size="8.6" fill="#222" text-anchor="middle">90</text>
<text transform="translate(690.1,482.2) scale(0.93,1)" font-size="8.6" fill="#222" text-anchor="middle">73</text>
<text transform="translate(705.0,482.2) scale(0.93,1)" font-size="8.6" fill="#222" text-anchor="middle">60</text>
<text transform="translate(719.8,482.2) scale(0.93,1)" font-size="8.6" fill="#222" text-anchor="middle">51</text>
<text transform="translate(734.6,482.2) scale(0.93,1)" font-size="8.6" fill="#222" text-anchor="middle">45</text>
<text transform="translate(749.5,482.2) scale(0.93,1)" font-size="8.6" fill="#222" text-anchor="middle">34</text>
<text transform="translate(764.3,482.2) scale(0.93,1)" font-size="8.6" fill="#222" text-anchor="middle">32</text>
<text transform="translate(779.1,482.2) scale(0.93,1)" font-size="8.6" fill="#222" text-anchor="middle">29</text>
<text transform="translate(794.0,482.2) scale(0.93,1)" font-size="8.6" fill="#222" text-anchor="middle">26</text>
<text transform="translate(808.8,482.2) scale(0.93,1)" font-size="8.6" fill="#222" text-anchor="middle">22</text>
<text transform="translate(823.6,482.2) scale(0.93,1)" font-size="8.6" fill="#222" text-anchor="middle">15</text>
<text transform="translate(838.5,482.2) scale(0.93,1)" font-size="8.6" fill="#222" text-anchor="middle">13</text>
<text transform="translate(853.3,482.2) scale(0.93,1)" font-size="8.6" fill="#222" text-anchor="middle">9</text>
<text transform="translate(868.1,482.2) scale(0.93,1)" font-size="8.6" fill="#222" text-anchor="middle">5</text>
<text transform="translate(882.9,482.2) scale(0.93,1)" font-size="8.6" fill="#222" text-anchor="middle">4</text>
<text transform="translate(897.8,482.2) scale(0.93,1)" font-size="8.6" fill="#222" text-anchor="middle">3</text>
<text transform="translate(912.6,482.2) scale(0.93,1)" font-size="8.6" fill="#222" text-anchor="middle">1</text>
<text transform="translate(927.4,482.2) scale(0.93,1)" font-size="8.6" fill="#222" text-anchor="middle">1</text>
<text transform="translate(942.3,482.2) scale(0.93,1)" font-size="8.6" fill="#222" text-anchor="middle">1</text>
<text transform="translate(957.1,482.2) scale(0.93,1)" font-size="8.6" fill="#222" text-anchor="middle">1</text>
<text transform="translate(971.9,482.2) scale(0.93,1)" font-size="8.6" fill="#222" text-anchor="middle">1</text>
<text transform="translate(986.8,482.2) scale(0.93,1)" font-size="8.6" fill="#222" text-anchor="middle">1</text>
<text transform="translate(1001.6,482.2) scale(0.93,1)" font-size="8.6" fill="#222" text-anchor="middle">0</text>
</g>
<text x="16.3" y="533.8" font-size="9.8" fill="#111" font-weight="bold" textLength="209.2" lengthAdjust="spacingAndGlyphs">PFS by blinded independent central review.</text>
<text x="16.3" y="544.6" font-size="8.5" fill="#222" textLength="668.0" lengthAdjust="spacingAndGlyphs">HR, hormone receptor; mPFS, median progression-free survival; PFS, progression-free survival; T-DXd, trastuzumab deruxtecan; TPC, treatment of physician’s choice.</text>
<rect x="0" y="550.8" width="1080" height="1" fill="#b9dfd3"/>
<text x="22.6" y="583.8" font-size="16.8" fill="#178a68" textLength="37.8" lengthAdjust="spacingAndGlyphs" stroke="#178a68" stroke-width="0.35">2022</text>
<text x="60.5" y="583.8" font-size="27.2" fill="#131f52" font-weight="bold" textLength="77.6" lengthAdjust="spacingAndGlyphs">ASCO</text>
<text x="137.8" y="567.6" font-size="4" fill="#14265c">®</text>
<text x="21.6" y="597.0" font-size="12" fill="#2a9a78" textLength="117.0" lengthAdjust="spacingAndGlyphs">ANNUAL MEETING</text>
<rect x="165" y="568.3" width="71.3" height="24.2" fill="#0e8a63"/>
<text x="173.0" y="585.0" font-size="12.7" fill="#fff" font-weight="bold" textLength="55.8" lengthAdjust="spacingAndGlyphs">#ASCO22</text>
<text x="305.0" y="575.0" font-size="7.3" fill="#2b4a8b" font-weight="bold" textLength="53.8" lengthAdjust="spacingAndGlyphs">PRESENTED BY:</text>
<text x="305.0" y="590.8" font-size="12.6" fill="#23407f" textLength="84.3" lengthAdjust="spacingAndGlyphs">Shanu Modi, MD</text>
<text x="694.3" y="578.4" font-size="8" fill="#26417c" font-weight="bold" textLength="174.1" lengthAdjust="spacingAndGlyphs">Content of this presentation is the property of the</text>
<text x="694.3" y="588.4" font-size="8" fill="#26417c" font-weight="bold" textLength="198.6" lengthAdjust="spacingAndGlyphs">author, licensed by ASCO. Permission required for reuse.</text>
<text x="915.0" y="584.0" font-size="23.2" fill="#131f52" font-weight="bold" textLength="67.2" lengthAdjust="spacingAndGlyphs">ASCO</text>
<text x="981.6" y="570.5" font-size="3.5" fill="#14265c">®</text>
<text x="988.3" y="573.8" font-size="6.4" fill="#3d4a6e" textLength="70.9" lengthAdjust="spacingAndGlyphs">AMERICAN SOCIETY OF</text>
<text x="988.3" y="581.3" font-size="6.4" fill="#3d4a6e" textLength="65.9" lengthAdjust="spacingAndGlyphs">CLINICAL ONCOLOGY</text>
<text x="915.8" y="594.3" font-size="8.2" fill="#2488c0" font-weight="bold" textLength="142.8" lengthAdjust="spacingAndGlyphs">KNOWLEDGE CONQUERS CANCER</text>
</svg>
</body>
</html>
